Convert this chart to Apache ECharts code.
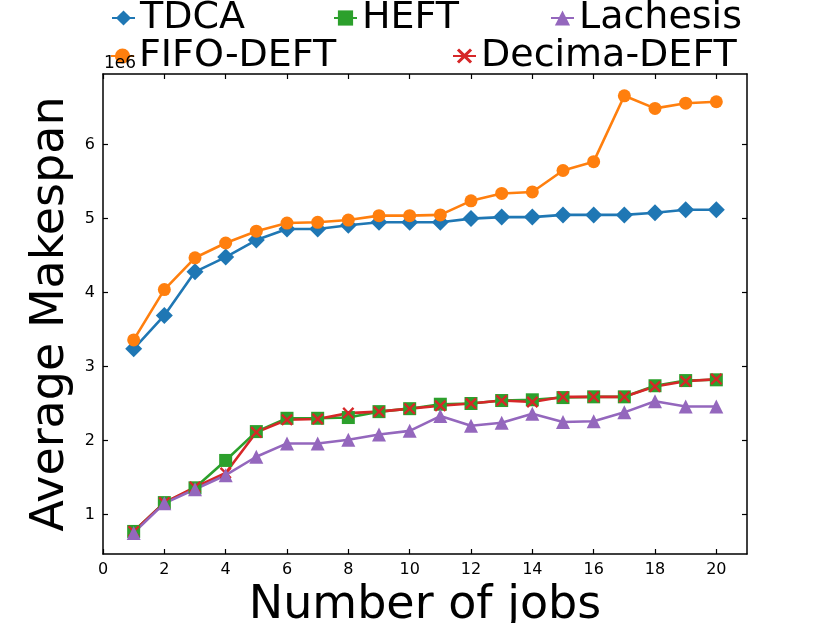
<!DOCTYPE html>
<html>
<head>
<meta charset="utf-8">
<script src="https://cdn.jsdelivr.net/npm/echarts@6.0.0/dist/echarts.min.js"></script>
<style>
  html, body { margin: 0; padding: 0; background: #fff; }
  #chart { width: 830px; height: 623px; }
</style>
</head>
<body>
<div id="chart"></div>
<script>
// values in units of 1e6
var jobs = [1, 2, 3, 4, 5, 6, 7, 8, 9, 10, 11, 12, 13, 14, 15, 16, 17, 18, 19, 20];
var tdca = [3.24, 3.69, 4.28, 4.48, 4.71, 4.86, 4.86, 4.91, 4.95, 4.95, 4.95, 5.00, 5.02, 5.02, 5.05, 5.05, 5.05, 5.08, 5.12, 5.12];
var fifoDeft = [3.36, 4.04, 4.47, 4.67, 4.83, 4.94, 4.95, 4.98, 5.04, 5.04, 5.05, 5.24, 5.34, 5.36, 5.65, 5.77, 6.66, 6.49, 6.56, 6.58];
var heft = [0.77, 1.16, 1.36, 1.73, 2.12, 2.30, 2.30, 2.31, 2.39, 2.43, 2.49, 2.50, 2.54, 2.55, 2.58, 2.59, 2.59, 2.74, 2.81, 2.82];
var decimaDeft = [0.77, 1.16, 1.37, 1.56, 2.11, 2.28, 2.29, 2.37, 2.39, 2.43, 2.47, 2.50, 2.54, 2.52, 2.59, 2.59, 2.59, 2.73, 2.80, 2.83];
var lachesis = [0.75, 1.15, 1.34, 1.53, 1.78, 1.96, 1.96, 2.01, 2.08, 2.13, 2.33, 2.20, 2.24, 2.36, 2.25, 2.26, 2.38, 2.53, 2.46, 2.46];

var xTicks = [0, 2, 4, 6, 8, 10, 12, 14, 16, 18, 20];
var yTicks = [1, 2, 3, 4, 5, 6];

var FONT = 'DejaVu Sans';
var xMark = 'path://M1.4,0 L5,3.6 L8.6,0 L10,1.4 L6.4,5 L10,8.6 L8.6,10 L5,6.4 L1.4,10 L0,8.6 L3.6,5 L0,1.4 Z';

function pairs(ys) {
    var res = [];
    for (var i = 0; i < jobs.length; i++) {
        res.push([jobs[i], ys[i]]);
    }
    return res;
}

function lineSeries(name, ys, color, symbol, size) {
    return {
        name: name,
        type: 'line',
        data: pairs(ys),
        symbol: symbol,
        symbolSize: size,
        lineStyle: { color: color, width: 2.6 },
        itemStyle: { color: color },
        emphasis: { disabled: true },
        animation: false
    };
}

function legendAt(name, left, top) {
    return {
        data: [name],
        left: left,
        top: top,
        padding: 0,
        itemWidth: 23,
        itemHeight: 19,
        selectedMode: false,
        textStyle: { fontSize: 38, fontFamily: FONT, color: '#000', lineHeight: 38 }
    };
}

var axisLine = { show: true, onZero: false, lineStyle: { color: '#000', width: 1.5 } };
var tickStyle = { color: '#000', width: 1.2 };

var chart = echarts.init(document.getElementById('chart'));

var option = {
    backgroundColor: '#fff',
    legend: [
        legendAt('TDCA', 111, -1),
        legendAt('HEFT', 333, -1),
        legendAt('Lachesis', 550, -1),
        legendAt('FIFO-DEFT', 110, 37),
        legendAt('Decima-DEFT', 452, 37)
    ],
    grid: { left: 103, right: 83, top: 74, bottom: 69, outerBoundsMode: 'none' },
    graphic: [{
        type: 'text',
        left: 104,
        top: 55,
        z: 10,
        style: { text: '1e6', fontSize: 17, fontFamily: FONT, fill: '#000' }
    }],
    xAxis: [{
        type: 'value',
        min: 0,
        max: 21,
        name: 'Number of jobs',
        nameLocation: 'middle',
        nameGap: 24,
        nameTextStyle: { fontSize: 46, fontFamily: FONT, color: '#000' },
        axisLine: axisLine,
        axisTick: { show: true, inside: true, length: 5, customValues: xTicks, lineStyle: tickStyle },
        axisLabel: { customValues: xTicks, fontSize: 16, fontFamily: FONT, color: '#000', margin: 8 },
        splitLine: { show: false }
    }, {
        type: 'value',
        position: 'top',
        min: 0,
        max: 21,
        axisLine: axisLine,
        axisTick: { show: true, inside: true, length: 5, customValues: xTicks, lineStyle: tickStyle },
        axisLabel: { show: false },
        splitLine: { show: false }
    }],
    yAxis: [{
        type: 'value',
        min: 0.465,
        max: 6.955,
        name: 'Average Makespan',
        nameLocation: 'middle',
        nameGap: 20,
        nameTextStyle: { fontSize: 46, fontFamily: FONT, color: '#000' },
        axisLine: axisLine,
        axisTick: { show: true, inside: true, length: 5, customValues: yTicks, lineStyle: tickStyle },
        axisLabel: { customValues: yTicks, fontSize: 16, fontFamily: FONT, color: '#000', margin: 8 },
        splitLine: { show: false }
    }, {
        type: 'value',
        position: 'right',
        min: 0.465,
        max: 6.955,
        axisLine: axisLine,
        axisTick: { show: true, inside: true, length: 5, customValues: yTicks, lineStyle: tickStyle },
        axisLabel: { show: false },
        splitLine: { show: false }
    }],
    series: [
        lineSeries('TDCA', tdca, '#1f77b4', 'diamond', 17),
        lineSeries('FIFO-DEFT', fifoDeft, '#ff7f0e', 'circle', 13),
        lineSeries('HEFT', heft, '#2ca02c', 'rect', 13),
        lineSeries('Decima-DEFT', decimaDeft, '#d62728', xMark, 12),
        lineSeries('Lachesis', lachesis, '#9467bd', 'triangle', 14)
    ]
};

chart.setOption(option);
</script>
</body>
</html>
